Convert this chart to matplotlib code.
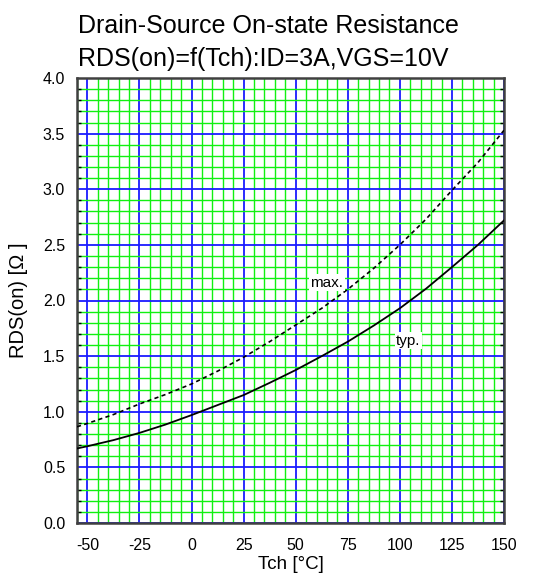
import matplotlib
matplotlib.use("Agg")
import matplotlib.pyplot as plt
from matplotlib.ticker import MultipleLocator

plt.rcParams['font.family'] = ['Liberation Sans', 'DejaVu Sans']

# Data
tch = [-55, -50, -37.5, -25, -12.5, 0, 12.5, 25, 37.5, 50, 62.5, 75, 87.5,
       100, 112.5, 125, 137.5, 150]
rds_typ = [0.67, 0.69, 0.745, 0.81, 0.885, 0.97, 1.06, 1.15, 1.26, 1.375,
           1.50, 1.63, 1.775, 1.93, 2.105, 2.30, 2.50, 2.72]
rds_max = [0.865, 0.895, 0.975, 1.07, 1.155, 1.25, 1.365, 1.49, 1.63, 1.78,
           1.93, 2.10, 2.29, 2.50, 2.73, 2.99, 3.24, 3.53]
xticks = [-50, -25, 0, 25, 50, 75, 100, 125, 150]
yticks = [0.0, 0.5, 1.0, 1.5, 2.0, 2.5, 3.0, 3.5, 4.0]

fig = plt.figure(figsize=(5.45, 5.78), dpi=100)
ax = fig.add_axes([77/545, 1 - 523/578, (504 - 77)/545, (523 - 78)/578])

ax.set_xlim(-55, 150)
ax.set_ylim(0, 4.0)
ax.set_xticks(xticks)
ax.set_xticklabels([str(t) for t in xticks])
ax.set_yticks(yticks)
ax.set_yticklabels([f"{v:.1f}" for v in yticks])
ax.xaxis.set_minor_locator(MultipleLocator(5))
ax.yaxis.set_minor_locator(MultipleLocator(0.1))

ax.grid(which='minor', color='#11f011', linewidth=1.0, zorder=0)
ax.grid(which='major', color='#1a1aff', linewidth=1.3, zorder=1)
ax.set_axisbelow(True)

ax.tick_params(axis='x', which='both', length=0, labelsize=11.5, pad=11)
ax.tick_params(axis='y', which='major', length=0, labelsize=11.5, pad=8.5)
ax.tick_params(axis='y', which='minor', direction='in', length=3, width=1,
               color='black', left=True, right=True)

for s in ax.spines.values():
    s.set_color('#404040')
    s.set_linewidth(1.8)

ax.plot(tch, rds_typ, color='black', linewidth=1.3, zorder=3)
ax.plot(tch, rds_max, color='black', linewidth=1.2, linestyle=(0, (2.5, 2)), zorder=3)

bbox = dict(facecolor='white', edgecolor='none', pad=1)
ax.text(65, 2.16, 'max.', fontsize=11, ha='center', va='center', bbox=bbox, zorder=4)
ax.text(104, 1.64, 'typ.', fontsize=11, ha='center', va='center', bbox=bbox, zorder=4)

ax.set_xlabel('Tch [°C]', fontsize=13.5, labelpad=2)
ax.set_ylabel('RDS(on) [Ω ]', fontsize=14.5, labelpad=11)

fig.text(78/545, 1 - 33/578, 'Drain-Source On-state Resistance', fontsize=18,
         ha='left', va='baseline')
fig.text(78/545, 1 - 66/578, 'RDS(on)=f(Tch):ID=3A,VGS=10V', fontsize=18,
         ha='left', va='baseline')

fig.savefig('out.png', dpi=100)
